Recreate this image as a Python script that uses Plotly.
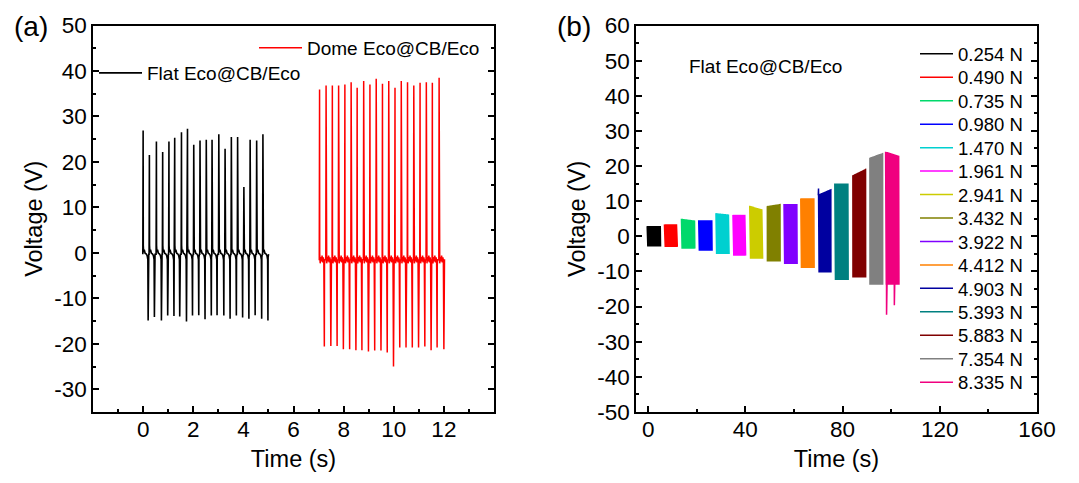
import numpy as np
import plotly.graph_objects as go

W, H = 1079, 483
FONT = "Liberation Sans, Arial, sans-serif"

# ---------------- Panel (a) data ----------------
flat_peak_t = [0.00, 0.25, 0.53, 0.78, 1.03, 1.26, 1.53, 1.77, 2.02, 2.27,
               2.52, 2.75, 3.02, 3.27, 3.52, 3.77, 4.02, 4.27, 4.53, 4.78]
flat_peak_v = [26.9, 21.5, 24.5, 22.2, 24.5, 25.3, 26.5, 27.3, 23.8, 24.7,
               24.9, 24.9, 26.1, 22.9, 25.5, 25.5, 14.5, 24.9, 24.7, 26.1]
flat_trough_v = [-14.9, -14.1, -14.9, -13.8, -13.9, -14.0, -15.1, -13.8, -13.7, -14.6,
                 -13.8, -13.7, -13.8, -14.5, -13.8, -14.2, -14.5, -13.7, -14.5, -14.9]
# shape of one press/release cycle (offset from peak in s, voltage); "P" = peak, "T" = trough
flat_cycle_dt = [-0.012, 0.0, 0.006, 0.02, 0.045, 0.08, 0.12, 0.16, 0.188, 0.2, 0.207, 0.225]
flat_cycle_v = [-0.3, "P", 1.6, 0.1, 0.7, -0.1, -0.2, -0.6, -1.5, "T", -1.0, -0.3]

dome_peak_t = [7.04, 7.30, 7.55, 7.80, 8.05, 8.30, 8.54, 8.80, 9.05, 9.30,
               9.55, 9.80, 10.05, 10.30, 10.55, 10.80, 11.05, 11.30, 11.54, 11.81]
dome_peak_v = [35.9, 36.8, 36.8, 36.8, 37.0, 37.5, 36.3, 37.8, 37.0, 38.3,
               37.2, 37.8, 36.3, 37.8, 37.5, 36.8, 37.4, 37.5, 37.4, 38.5]
dome_trough_v = [-20.6, -20.5, -20.5, -21.2, -21.2, -21.4, -21.4, -21.7, -21.5, -21.5,
                 -21.9, -25.0, -20.8, -20.8, -20.8, -20.8, -20.6, -21.4, -20.8, -21.2]
dome_cycle_dt = [-0.012, 0.0, 0.006, 0.025, 0.05, 0.075, 0.1, 0.125, 0.15, 0.17, 0.19, 0.197, 0.215]
dome_cycle_v = [-1.6, "P", -0.3, -2.3, -0.9, -1.9, -0.6, -2.1, -1.0, -1.7, "T", -2.6, -1.4]


def build_signal(peak_t, peak_v, trough_v, cyc_dt, cyc_v):
    xs, ys = [], []
    for t, p, tr in zip(peak_t, peak_v, trough_v):
        for d, v in zip(cyc_dt, cyc_v):
            xs.append(t + d)
            ys.append(p if v == "P" else (tr if v == "T" else v))
    return xs, ys


# ---------------- Panel (b) data ----------------
force_labels = ["0.254 N", "0.490 N", "0.735 N", "0.980 N", "1.470 N", "1.961 N",
                "2.941 N", "3.432 N", "3.922 N", "4.412 N", "4.903 N", "5.393 N",
                "5.883 N", "7.354 N", "8.335 N"]
force_colors = ["#000000", "#FF0000", "#00D96B", "#0000FF", "#00D0D0", "#FF00FF",
                "#CCCC00", "#808000", "#8000FF", "#FF8000", "#0000A0", "#008080",
                "#800000", "#808080", "#F0007F"]
block_t_start = [-0.4, 6.7, 13.7, 20.8, 27.9, 34.9, 41.8, 48.8, 55.9, 62.8, 70.0, 76.8, 84.0, 91.0, 97.7]
block_t_end = [5.1, 12.0, 19.2, 26.3, 33.3, 40.1, 47.1, 54.3, 61.3, 68.3, 75.2, 82.3, 89.5, 96.5, 103.2]
block_top_start = [2.9, 3.4, 5.0, 4.6, 6.6, 6.1, 8.7, 8.4, 9.2, 10.8, 11.7, 15.0, 17.1, 22.1, 24.1]
block_top_end = [2.9, 3.4, 4.5, 4.6, 6.2, 6.1, 7.6, 9.0, 9.2, 10.8, 13.2, 15.0, 19.0, 23.5, 22.9]
block_bottom = [-2.9, -3.0, -3.5, -4.1, -5.0, -5.5, -6.4, -7.2, -7.9, -9.0, -10.3, -12.4, -11.7, -13.8, -13.8]
# isolated spikes: (block index, time, voltage)
spike_block = [10, 14, 14]
spike_t = [70.1, 98.1, 101.3]
spike_v = [13.6, -22.3, -19.6]

fig = go.Figure()

fx, fy = build_signal(flat_peak_t, flat_peak_v, flat_trough_v, flat_cycle_dt, flat_cycle_v)
dx, dy = build_signal(dome_peak_t, dome_peak_v, dome_trough_v, dome_cycle_dt, dome_cycle_v)

fig.add_trace(go.Scatter(x=fx, y=fy, mode="lines", name="Flat Eco@CB/Eco",
                         line=dict(color="black", width=1.6), xaxis="x", yaxis="y",
                         legend="legend", showlegend=True))
fig.add_trace(go.Scatter(x=dx, y=dy, mode="lines", name="Dome Eco@CB/Eco",
                         line=dict(color="#FF0000", width=1.5), xaxis="x", yaxis="y",
                         legend="legend2", showlegend=True))

n_osc = 140
for i, lab in enumerate(force_labels):
    t0, t1 = block_t_start[i], block_t_end[i]
    ts = np.linspace(t0, t1, n_osc)
    tops = np.interp(ts, [t0, t1], [block_top_start[i], block_top_end[i]])
    ys = np.where(np.arange(n_osc) % 2 == 0, tops, block_bottom[i])
    xs = list(ts)
    ys = list(ys)
    for b, st, sv in zip(spike_block, spike_t, spike_v):
        if b == i:
            k = int(np.searchsorted(ts, st))
            xs.insert(k, st)
            ys.insert(k, sv)
    fig.add_trace(go.Scatter(x=xs, y=ys, mode="lines", name=lab,
                             line=dict(color=force_colors[i], width=1.5),
                             xaxis="x2", yaxis="y2", legend="legend%d" % (i + 3),
                             showlegend=True))

ax_common = dict(showline=True, linecolor="black", linewidth=1.5, showgrid=False,
                 zeroline=False, ticks="inside", ticklen=6, tickwidth=1.5, tickcolor="black",
                 automargin=False,
                 tickfont=dict(family=FONT, size=22.5, color="black"))
TITLE_FONT = dict(family=FONT, size=23.5, color="black")

ydom = [1 - 412 / H, 1 - 25.5 / H]

a_xticks = [0, 2, 4, 6, 8, 10, 12]
a_yticks = [-30, -20, -10, 0, 10, 20, 30, 40, 50]
b_xticks = [0, 40, 80, 120, 160]
b_yticks = [-50, -40, -30, -20, -10, 0, 10, 20, 30, 40, 50, 60]


def lab(v):
    return str(v)


minor_common = dict(ticks="inside", ticklen=3, tickwidth=1.5, tickcolor="black")

layout = dict(
    width=W, height=H, margin=dict(l=0, r=0, t=0, b=0, autoexpand=False),
    paper_bgcolor="white", plot_bgcolor="white", showlegend=True,
    font=dict(family=FONT, color="black"),
    xaxis=dict(domain=[93 / W, 494 / W], range=[-2, 14], anchor="y", mirror=True,
               tickmode="array", tickvals=a_xticks, ticktext=[lab(v) for v in a_xticks],
               minor=dict(tickvals=[-1, 1, 3, 5, 7, 9, 11, 13], **minor_common),
               ticklabelstandoff=-4,
               title=dict(text="Time (s)", font=TITLE_FONT, standoff=10),
               **ax_common),
    yaxis=dict(domain=ydom, range=[-35, 50], anchor="x", mirror="ticks",
               tickmode="array", tickvals=a_yticks, ticktext=[lab(v) for v in a_yticks],
               minor=dict(tickvals=[-35, -25, -15, -5, 5, 15, 25, 35, 45], **minor_common),
               title=dict(text="Voltage (V)", font=TITLE_FONT, standoff=5),
               **ax_common),
    xaxis2=dict(domain=[636 / W, 1037 / W], range=[-5, 160], anchor="y2", mirror=True,
                tickmode="array", tickvals=b_xticks, ticktext=[lab(v) for v in b_xticks],
                minor=dict(tickvals=[20, 60, 100, 140], **minor_common),
                ticklabelstandoff=-4,
                title=dict(text="Time (s)", font=TITLE_FONT, standoff=10),
                **ax_common),
    yaxis2=dict(domain=ydom, range=[-50, 60], anchor="x2", mirror="ticks",
                tickmode="array", tickvals=b_yticks, ticktext=[lab(v) for v in b_yticks],
                minor=dict(tickvals=[-45, -35, -25, -15, -5, 5, 15, 25, 35, 45, 55], **minor_common),
                title=dict(text="Voltage (V)", font=TITLE_FONT, standoff=5),
                **ax_common),
    legend=dict(x=94 / W, y=1 - 54 / H, xanchor="left", yanchor="top",
                bgcolor="rgba(0,0,0,0)", borderwidth=0, itemwidth=43,
                font=dict(family=FONT, size=19, color="black")),
    legend2=dict(x=254 / W, y=1 - 29 / H, xanchor="left", yanchor="top",
                 bgcolor="rgba(0,0,0,0)", borderwidth=0, itemwidth=43,
                 font=dict(family=FONT, size=19, color="black")),
    annotations=[
        dict(text="(a)", x=30.5 / W, y=1 - 27 / H, xref="paper", yref="paper",
             showarrow=False, font=dict(family=FONT, size=28, color="black"),
             xanchor="center", yanchor="middle"),
        dict(text="(b)", x=574 / W, y=1 - 27 / H, xref="paper", yref="paper",
             showarrow=False, font=dict(family=FONT, size=28, color="black"),
             xanchor="center", yanchor="middle"),
        dict(text="Flat Eco@CB/Eco", x=687 / W, y=1 - 66 / H, xref="paper", yref="paper",
             showarrow=False, font=dict(family=FONT, size=19, color="black"),
             xanchor="left", yanchor="middle"),
    ],
)
for i in range(len(force_labels)):
    center = 53.3 + i * 23.45
    layout["legend%d" % (i + 3)] = dict(
        x=915 / W, y=1 - (center - 18) / H, xanchor="left", yanchor="top",
        bgcolor="rgba(0,0,0,0)", borderwidth=0, itemwidth=33,
        font=dict(family=FONT, size=18.5, color="black"))

fig.update_layout(**layout)
fig.write_html("out.html", config={"displayModeBar": False},
               post_script="document.body.style.margin='0';document.body.style.overflow='hidden';")
